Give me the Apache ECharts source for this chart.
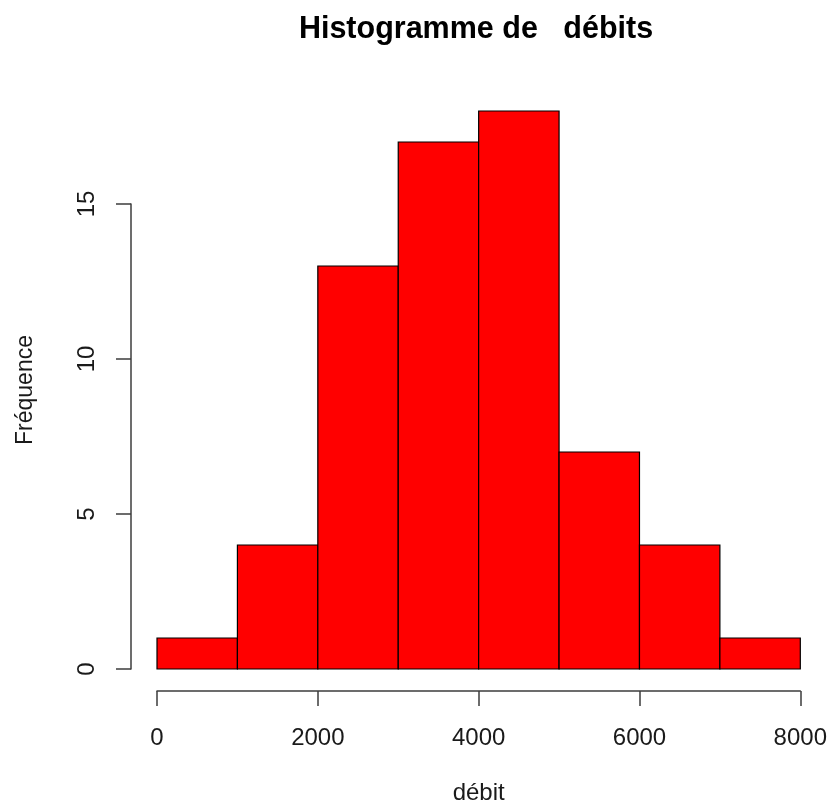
<!DOCTYPE html>
<html>
<head>
<meta charset="utf-8">
<script src="https://cdn.jsdelivr.net/npm/echarts@6/dist/echarts.min.js"></script>
<style>
html,body{margin:0;padding:0;background:#fff;}
#chart{width:830px;height:810px;}
</style>
</head>
<body>
<div id="chart"></div>
<script>
// Histogram data
const breaks = [0, 1000, 2000, 3000, 4000, 5000, 6000, 7000, 8000];
const counts = [1, 4, 13, 17, 18, 7, 4, 1];
const xTicks = [0, 2000, 4000, 6000, 8000];
const yTicks = [0, 5, 10, 15];
const titleText = 'Histogramme de   débits';
const xName = 'débit';
const yName = 'Fréquence';

const binData = counts.map((c, i) => [breaks[i], breaks[i + 1], c]);

const FONT = 'Liberation Sans, Arial, sans-serif';
const axisColor = '#3c3c3c';
const textColor = '#1a1a1a';

const chart = echarts.init(document.getElementById('chart'), null, {renderer: 'canvas'});
chart.setOption({
  animation: false,
  backgroundColor: '#ffffff',
  title: {
    text: titleText,
    left: 471,
    textAlign: 'center',
    top: 9,
    textStyle: {fontFamily: FONT, fontWeight: 'bold', fontSize: 30.5, color: '#000'}
  },
  grid: [
    {left: 157, right: 29, top: 111, bottom: 141},
    {left: 157, right: 29, top: 204, bottom: 141}
  ],
  xAxis: [
    {
      type: 'value', gridIndex: 0,
      min: xTicks[0], max: xTicks[xTicks.length - 1], interval: 2000,
      offset: 22,
      name: xName, nameLocation: 'middle', nameGap: 90,
      nameTextStyle: {fontFamily: FONT, fontSize: 24, color: textColor},
      axisLine: {show: true, onZero: false, lineStyle: {color: axisColor, width: 1.5}},
      axisTick: {show: true, length: 15, lineStyle: {color: axisColor, width: 1.5}},
      axisLabel: {show: true, margin: 35, fontFamily: FONT, fontSize: 24, color: textColor,
        formatter: function (v) { return String(v); }},
      splitLine: {show: false}
    },
    {
      type: 'value', gridIndex: 1, min: 0, max: 8000, show: false
    }
  ],
  yAxis: [
    {
      type: 'value', gridIndex: 0, min: 0, max: 18,
      name: yName, nameLocation: 'middle', nameGap: 120, nameRotate: 90,
      nameTextStyle: {fontFamily: FONT, fontSize: 23, color: textColor},
      axisLine: {show: false, onZero: false}, axisTick: {show: false}, axisLabel: {show: false},
      splitLine: {show: false}
    },
    {
      type: 'value', gridIndex: 1,
      min: yTicks[0], max: yTicks[yTicks.length - 1], interval: 5,
      offset: 26,
      axisLine: {show: true, onZero: false, lineStyle: {color: axisColor, width: 1.5}},
      axisTick: {show: true, length: 15, lineStyle: {color: axisColor, width: 1.5}},
      axisLabel: {show: true, rotate: 90, margin: 32, fontFamily: FONT, fontSize: 24, color: textColor,
        formatter: function (v) { return String(v); }},
      splitLine: {show: false}
    }
  ],
  series: [{
    type: 'custom',
    xAxisIndex: 0, yAxisIndex: 0,
    data: binData,
    renderItem: function (params, api) {
      const p0 = api.coord([api.value(0), api.value(2)]);
      const p1 = api.coord([api.value(1), 0]);
      return {
        type: 'rect',
        shape: {x: p0[0], y: p0[1], width: p1[0] - p0[0], height: p1[1] - p0[1]},
        style: {fill: '#ff0000', stroke: '#000000', lineWidth: 1.2}
      };
    }
  }]
});
</script>
</body>
</html>
